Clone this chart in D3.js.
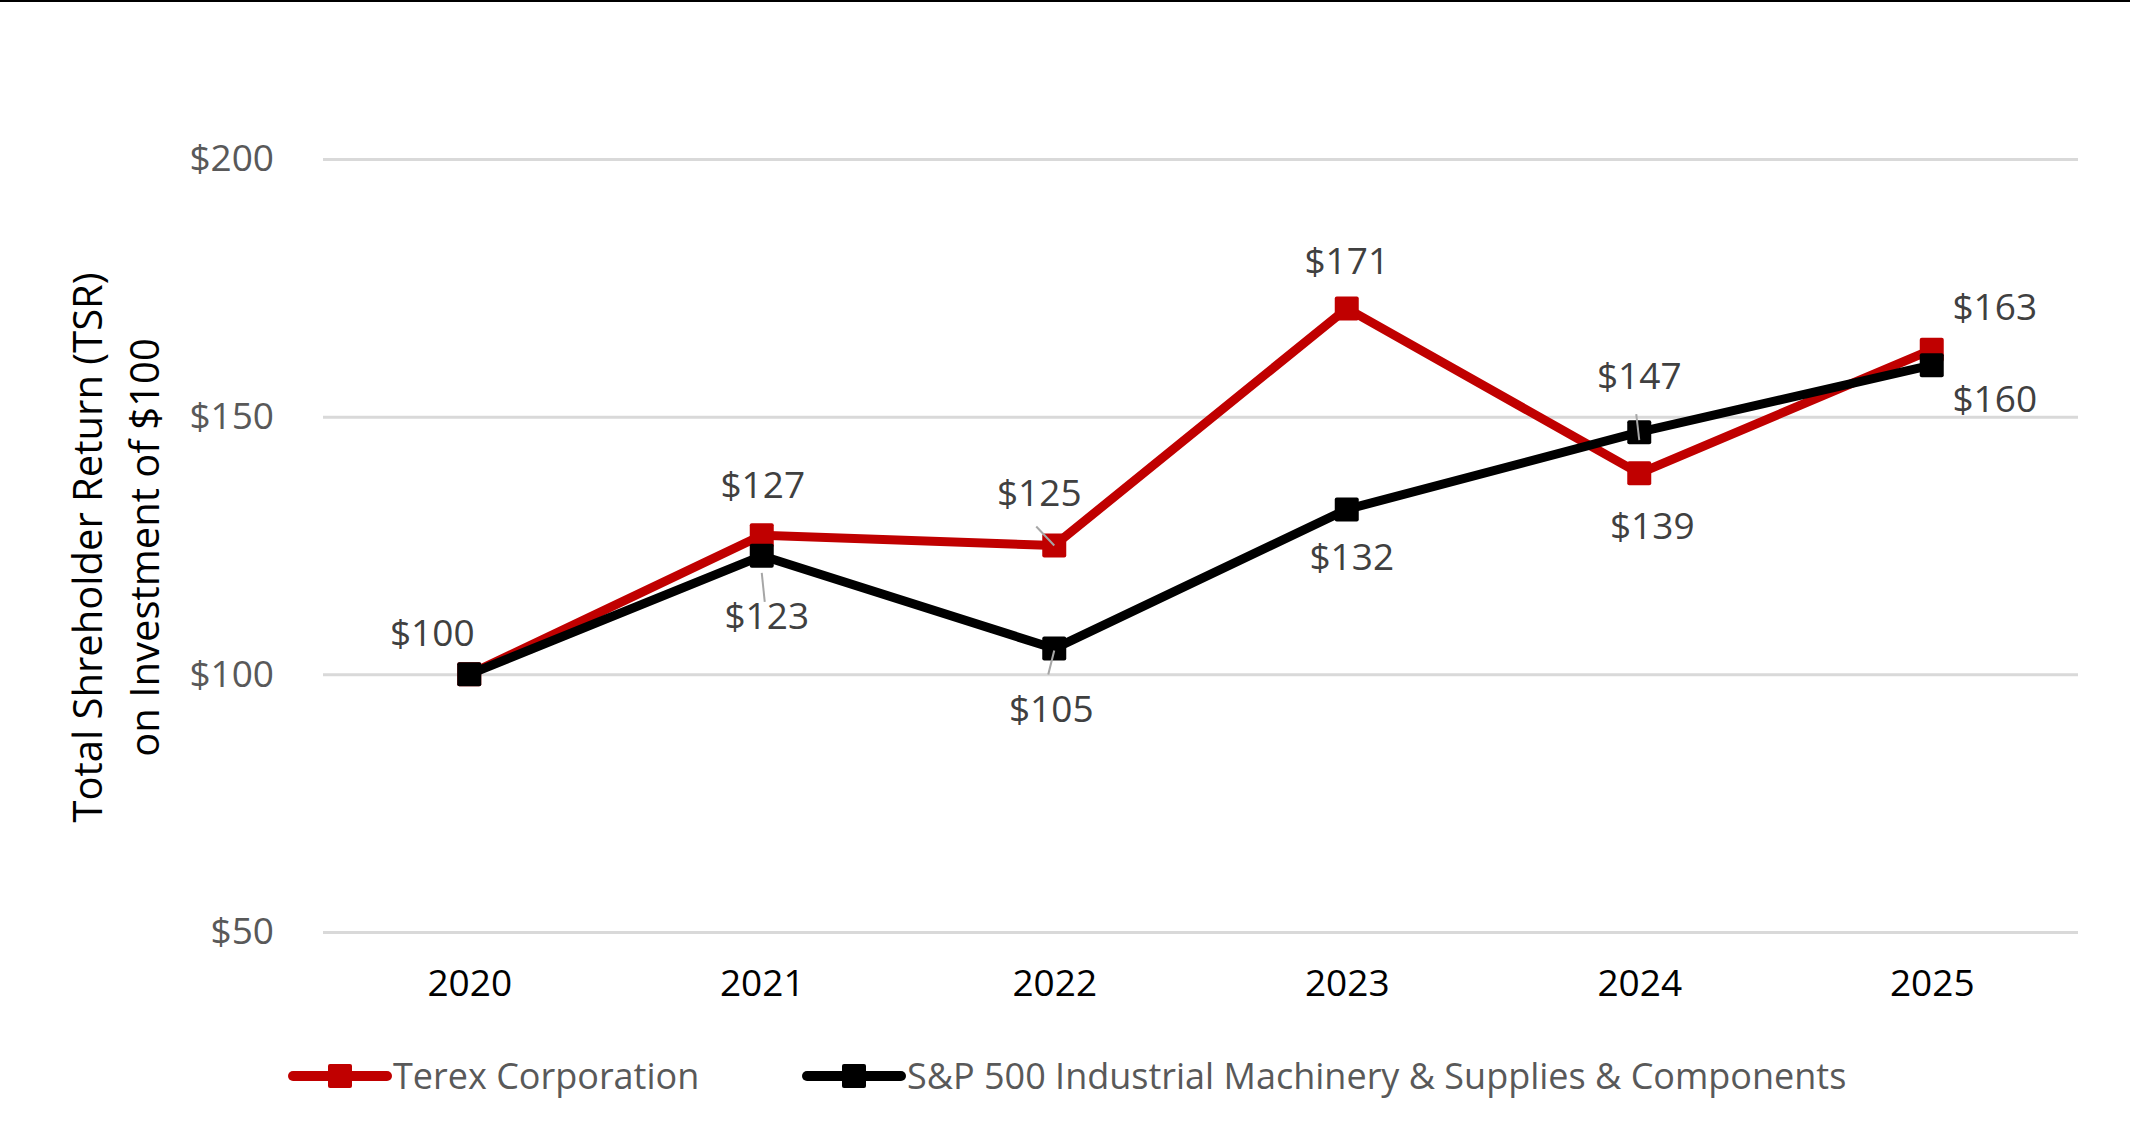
<!DOCTYPE html>
<html>
<head>
<meta charset="utf-8">
<script src="https://cdn.jsdelivr.net/npm/d3@7"></script>
<style>
  body { margin: 0; background: #fff; }
  svg { display: block; font-family: "Open Sans", sans-serif; }
</style>
</head>
<body>
<div id="chart"></div>
<script>
// data
const years = ["2020", "2021", "2022", "2023", "2024", "2025"];
const terexValues = [100, 127, 125, 171, 139, 163];
const spValues = [100, 123, 105, 132, 147, 160];
const yTicks = [50, 100, 150, 200];
const seriesNames = ["Terex Corporation", "S&P 500 Industrial Machinery & Supplies & Components"];

// label placement (offset from point, px) - null means no label
const terexLabelOffsets = [[-37, -41], [1, -50], [-15, -52], [0, -47], [13, 53], [63, -43]];
const spLabelOffsets = [null, [5, 60], [-3, 60], [5, 48], [0, -56], [63, 34]];
// leader lines [from dx, dy, to dx, dy] relative to point
const terexLeaders = [null, null, [-18, -19, 0, 0], null, null, null];
const spLeaders = [null, [0, 17, 3, 46], [0, 2, -6, 26], null, [-3, -18, 0, 8], null];

const width = 2130, height = 1144;
const margin = { top: 159, right: 52, bottom: 212, left: 323 };
const tickFont = 37, labelFont = 37, legendFont = 36, titleFont = 40;

const svg = d3.select("#chart")
    .append("svg")
    .attr("width", width)
    .attr("height", height);

// top border
svg.append("line")
    .attr("x1", 0).attr("x2", width)
    .attr("y1", 1).attr("y2", 1)
    .attr("stroke", "#000")
    .attr("stroke-width", 2);

const xScale = d3.scalePoint()
    .domain(years)
    .range([margin.left, width - margin.right])
    .padding(0.5);

const yScale = d3.scaleLinear()
    .domain([50, 200])
    .range([height - margin.bottom, margin.top]);

// y axis with gridlines
const yAxis = svg.append("g")
    .attr("transform", `translate(${margin.left}, 0)`)
    .call(d3.axisLeft(yScale)
        .tickValues(yTicks)
        .tickSize(-(width - margin.left - margin.right))
        .tickPadding(49)
        .tickFormat(d => "$" + d));
yAxis.select(".domain").remove();
yAxis.selectAll("line")
    .attr("stroke", "#d9d9d9")
    .attr("stroke-width", 3);
yAxis.selectAll("text")
    .attr("fill", "#595959")
    .style("font-size", tickFont + "px")
    .style("font-family", "'Open Sans', sans-serif");

// x axis
const xAxis = svg.append("g")
    .attr("transform", `translate(0, ${height - margin.bottom})`)
    .call(d3.axisBottom(xScale).tickSize(0).tickPadding(38));
xAxis.select(".domain").remove();
xAxis.selectAll("text")
    .attr("fill", "#000")
    .style("font-size", tickFont + "px")
    .style("font-family", "'Open Sans', sans-serif");

// y axis title
const yTitle = svg.append("g")
    .attr("transform", `translate(0, ${(margin.top + height - margin.bottom) / 2 + 2}) rotate(-90)`);
yTitle.append("text")
    .attr("x", 0).attr("y", 88).attr("dy", "0.35em")
    .attr("text-anchor", "middle")
    .attr("fill", "#000")
    .style("font-size", titleFont + "px")
    .text("Total Shreholder Return (TSR)");
yTitle.append("text")
    .attr("x", 0).attr("y", 145).attr("dy", "0.35em")
    .attr("text-anchor", "middle")
    .attr("fill", "#000")
    .style("font-size", titleFont + "px")
    .text("on Investment of $100");

const line = d3.line()
    .x((d, i) => xScale(years[i]))
    .y(d => yScale(d));

// draw a series (line + square markers)
function drawSeries(values, color) {
    const g = svg.append("g");
    g.append("path")
        .datum(values)
        .attr("fill", "none")
        .attr("stroke", color)
        .attr("stroke-width", 9)
        .attr("stroke-linejoin", "round")
        .attr("d", line);
    g.selectAll("rect")
        .data(values)
        .enter()
        .append("rect")
        .attr("x", (d, i) => xScale(years[i]) - 12)
        .attr("y", d => yScale(d) - 12)
        .attr("width", 24)
        .attr("height", 24)
        .attr("rx", 2)
        .attr("fill", color);
}

drawSeries(terexValues, "#c00000");
drawSeries(spValues, "#000000");

// leader lines + data labels
function drawLabels(values, offsets, leaders) {
    const g = svg.append("g");
    values.forEach((v, i) => {
        const px = xScale(years[i]), py = yScale(v);
        if (leaders[i]) {
            const l = leaders[i];
            g.append("line")
                .attr("x1", px + l[0]).attr("y1", py + l[1])
                .attr("x2", px + l[2]).attr("y2", py + l[3])
                .attr("stroke", "#a6a6a6")
                .attr("stroke-width", 2);
        }
        if (offsets[i]) {
            g.append("text")
                .attr("x", px + offsets[i][0])
                .attr("y", py + offsets[i][1])
                .attr("dy", "0.35em")
                .attr("text-anchor", "middle")
                .attr("fill", "#404040")
                .style("font-size", labelFont + "px")
                .text("$" + v);
        }
    });
}

drawLabels(terexValues, terexLabelOffsets, terexLeaders);
drawLabels(spValues, spLabelOffsets, spLeaders);

// legend
const legendY = 1076;
const legendItems = [
    { name: seriesNames[0], color: "#c00000", x: 293 },
    { name: seriesNames[1], color: "#000000", x: 807 }
];
const legend = svg.append("g")
    .selectAll("g")
    .data(legendItems)
    .enter()
    .append("g")
    .attr("transform", d => `translate(${d.x}, ${legendY})`);

legend.append("line")
    .attr("x1", 0).attr("x2", 94)
    .attr("y1", 0).attr("y2", 0)
    .attr("stroke", d => d.color)
    .attr("stroke-width", 10)
    .attr("stroke-linecap", "round");
legend.append("rect")
    .attr("x", 35).attr("y", -12)
    .attr("width", 24).attr("height", 24)
    .attr("rx", 2)
    .attr("fill", d => d.color);
legend.append("text")
    .attr("x", 100)
    .attr("dy", "0.35em")
    .attr("fill", "#595959")
    .style("font-size", legendFont + "px")
    .text(d => d.name);
</script>
</body>
</html>
